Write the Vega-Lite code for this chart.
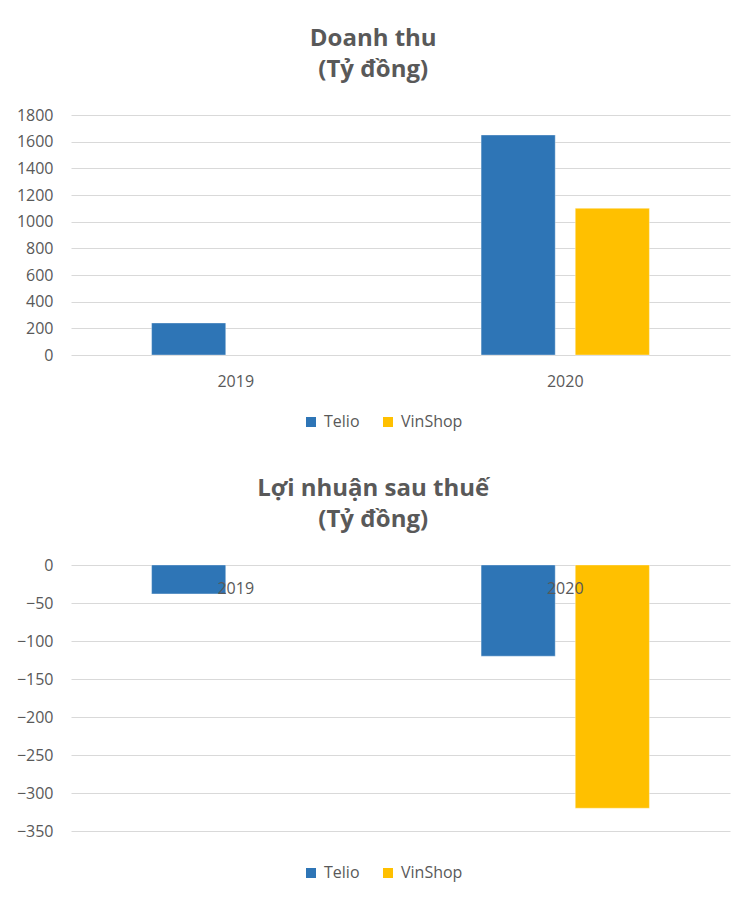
{
  "$schema": "https://vega.github.io/schema/vega-lite/v6.json",
  "background": "white",
  "padding": {"top": 27, "left": 16, "right": 10, "bottom": 12},
  "datasets": {
    "rev": [
      {"year": "2019", "company": "Telio", "value": 240},
      {"year": "2020", "company": "Telio", "value": 1650},
      {"year": "2020", "company": "VinShop", "value": 1100}
    ],
    "profit": [
      {"year": "2019", "company": "Telio", "value": -38},
      {"year": "2020", "company": "Telio", "value": -120},
      {"year": "2020", "company": "VinShop", "value": -320}
    ]
  },
  "spacing": 47,
  "resolve": {"scale": {"color": "independent"}, "legend": {"color": "independent"}},
  "vconcat": [
    {
      "title": {"text": ["Doanh thu", "(Tỷ đồng)"]},
      "width": 659,
      "height": 240,
      "data": {"name": "rev"},
      "mark": {"type": "bar", "stroke": "#ffffff", "strokeOpacity": 0.35, "strokeWidth": 1},
      "encoding": {
        "x": {
          "field": "year", "type": "nominal",
          "scale": {"paddingInner": 0, "paddingOuter": 0},
          "axis": {"title": null, "labelAngle": 0, "labelPadding": 18}
        },
        "xOffset": {
          "field": "company", "type": "nominal",
          "scale": {"domain": ["Telio", "VinShop"], "paddingInner": 0.2128, "paddingOuter": 0.856}
        },
        "y": {
          "field": "value", "type": "quantitative",
          "scale": {"domain": [0, 1800], "nice": false},
          "axis": {"title": null, "format": "d", "values": [0, 200, 400, 600, 800, 1000, 1200, 1400, 1600, 1800]}
        },
        "color": {
          "field": "company", "type": "nominal",
          "scale": {"domain": ["Telio", "VinShop"], "range": ["#2E75B6", "#FFC000"]},
          "legend": {"title": null, "orient": "none", "direction": "horizontal", "legendX": 232, "legendY": 299}
        }
      }
    },
    {
      "title": {"text": ["Lợi nhuận sau thuế", "(Tỷ đồng)"]},
      "width": 659,
      "height": 266,
      "data": {"name": "profit"},
      "mark": {"type": "bar", "stroke": "#ffffff", "strokeOpacity": 0.35, "strokeWidth": 1},
      "encoding": {
        "x": {
          "field": "year", "type": "nominal",
          "scale": {"paddingInner": 0, "paddingOuter": 0},
          "axis": {"title": null, "orient": "top", "labelAngle": 0, "labelPadding": -23, "labelBaseline": "middle", "zindex": 1}
        },
        "xOffset": {
          "field": "company", "type": "nominal",
          "scale": {"domain": ["Telio", "VinShop"], "paddingInner": 0.2128, "paddingOuter": 0.856}
        },
        "y": {
          "field": "value", "type": "quantitative",
          "scale": {"domain": [-350, 0], "nice": false},
          "axis": {"title": null, "format": "d", "values": [-350, -300, -250, -200, -150, -100, -50, 0]}
        },
        "color": {
          "field": "company", "type": "nominal",
          "scale": {"domain": ["Telio", "VinShop"], "range": ["#2E75B6", "#FFC000"]},
          "legend": {"title": null, "orient": "none", "direction": "horizontal", "legendX": 232, "legendY": 300}
        }
      }
    }
  ],
  "config": {
    "font": "Open Sans",
    "view": {"stroke": null},
    "axis": {
      "labelFont": "Open Sans", "labelFontSize": 16, "labelColor": "#595959",
      "gridColor": "#d9d9d9", "gridWidth": 1, "ticks": false, "tickSize": 0, "domain": false
    },
    "axisY": {"labelPadding": 18, "grid": true},
    "axisX": {"grid": false},
    "title": {
      "font": "Open Sans", "fontSize": 24, "fontWeight": "bold", "color": "#595959",
      "lineHeight": 31, "offset": 25, "anchor": "middle", "frame": "bounds"
    },
    "legend": {
      "symbolType": "square", "symbolSize": 100, "symbolStrokeWidth": 0,
      "labelFont": "Open Sans", "labelFontSize": 16, "labelColor": "#595959",
      "columnPadding": 20, "labelOffset": 5
    }
  }
}
